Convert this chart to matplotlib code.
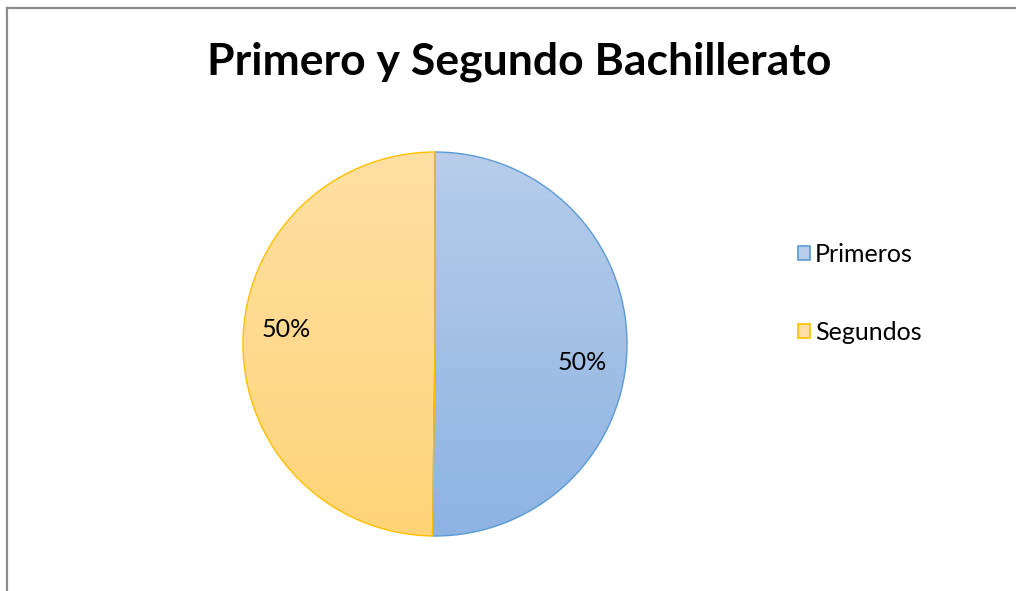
import numpy as np
import matplotlib.pyplot as plt
from matplotlib.colors import LinearSegmentedColormap
from matplotlib.patches import Rectangle
from matplotlib.lines import Line2D

# Chart data
labels = ["Primeros", "Segundos"]
values = [50.2, 49.8]
title = "Primero y Segundo Bachillerato"

# Gradient colours (top, bottom) and edge colours
grad_colors = [("#b7cdea", "#8db3e2"), ("#ffdfa3", "#ffd478")]
edge_colors = ["#5b9bd5", "#ffc000"]

plt.rcParams["font.family"] = ["Lato", "DejaVu Sans"]

fig = plt.figure(figsize=(10.16, 5.91), dpi=100)

# Outer chart border (left and top visible)
fig.add_artist(Line2D([0.0065, 0.0065], [0, 0.987], transform=fig.transFigure,
                      color="#8c8c8c", lw=1.6))
fig.add_artist(Line2D([0.0065, 1.0], [0.987, 0.987], transform=fig.transFigure,
                      color="#8c8c8c", lw=1.6))

fig.text(0.511, 0.896, title, ha="center", va="center", fontsize=32,
         fontweight="bold", color="#000000")

# Pie axes: center ~ (435, 344) px, radius ~192 px
ax = fig.add_axes([(435 - 192) / 1016, (591 - 344 - 192) / 591, 384 / 1016, 384 / 591])
wedges, texts, autotexts = ax.pie(values, startangle=90, counterclock=False,
                                  autopct="%1.0f%%", pctdistance=0.77,
                                  wedgeprops=dict(linewidth=1.0),
                                  textprops=dict(fontsize=18))
ax.set_xlim(-1, 1)
ax.set_ylim(-1, 1)
ax.set_aspect("equal")
ax.axis("off")

for w, (c_top, c_bot), ec in zip(wedges, grad_colors, edge_colors):
    w.set_facecolor("none")
    w.set_edgecolor(ec)
    w.set_zorder(3)
    cmap = LinearSegmentedColormap.from_list("g", [c_bot, c_top])
    grad = np.linspace(0, 1, 256).reshape(-1, 1)
    im = ax.imshow(grad, cmap=cmap, extent=(-1, 1, -1, 1), origin="lower",
                   aspect="auto", zorder=1)
    im.set_clip_path(w)

# Move percentage labels to match reference positions
autotexts[0].set_position((0.766, -0.094))
autotexts[1].set_position((-0.776, 0.073))
for t in autotexts:
    t.set_zorder(5)

# Legend
handles = [Rectangle((0, 0), 1, 1, facecolor=c[0], edgecolor=ec, lw=1.2)
           for c, ec in zip(grad_colors, edge_colors)]
fig.legend(handles, labels, loc="upper left", bbox_to_anchor=(0.763, 0.627),
           frameon=False, fontsize=18, handlelength=0.5, handleheight=0.5,
           handletextpad=0.18, labelspacing=2.2)

fig.savefig("out.png", dpi=100)
